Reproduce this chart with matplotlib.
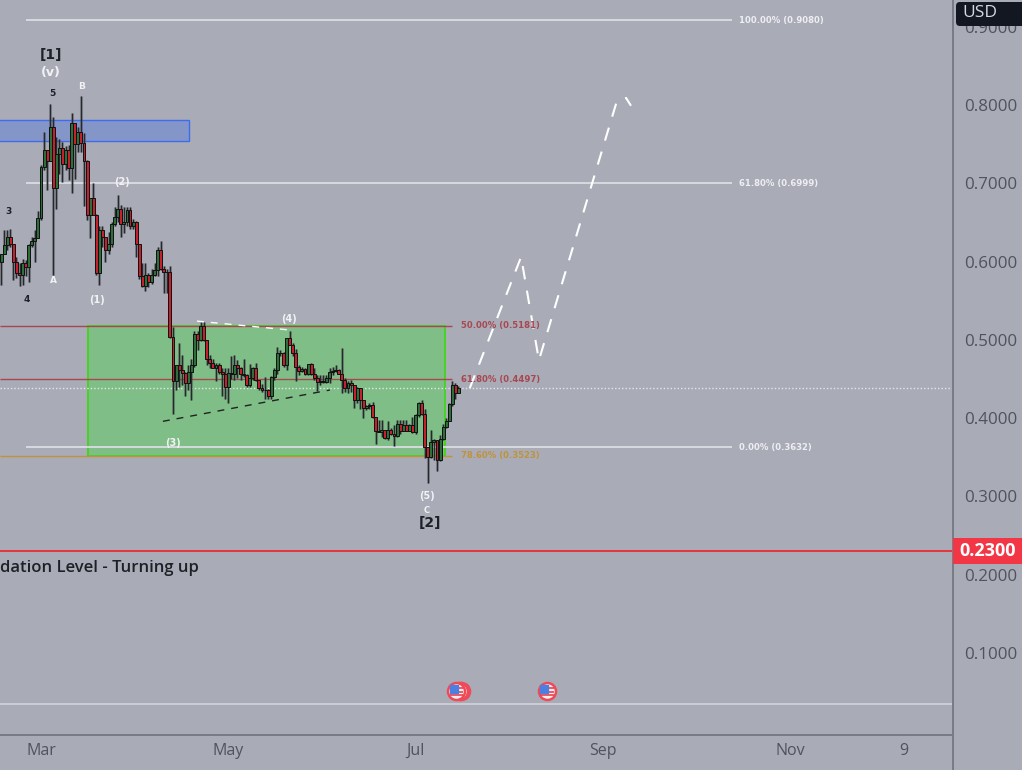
import numpy as np
import matplotlib
matplotlib.use('Agg')
import matplotlib.pyplot as plt
from matplotlib.lines import Line2D
from matplotlib.patches import Rectangle, FancyBboxPatch

# daily candles, day 0 is 1 March
first_day = -13
first_open = 0.599
closes = [0.610, 0.621, 0.631, 0.623, 0.599, 0.586, 0.583, 0.598, 0.593, 0.621,
          0.626, 0.630, 0.656, 0.721, 0.743, 0.729, 0.772, 0.694, 0.737, 0.745,
          0.725, 0.743, 0.719, 0.777, 0.750, 0.765, 0.752, 0.729, 0.660, 0.681,
          0.660, 0.586, 0.640, 0.632, 0.615, 0.623, 0.648, 0.657, 0.667, 0.648,
          0.651, 0.666, 0.645, 0.651, 0.622, 0.581, 0.569, 0.583, 0.574, 0.583,
          0.589, 0.615, 0.591, 0.587, 0.587, 0.504,
          0.447, 0.468, 0.461, 0.458, 0.445, 0.459, 0.468, 0.508, 0.500, 0.518,
          0.500, 0.475, 0.470, 0.464, 0.468, 0.459, 0.457, 0.440, 0.458, 0.456,
          0.468, 0.464, 0.457, 0.455, 0.442, 0.451, 0.464, 0.449, 0.438, 0.436,
          0.436, 0.428, 0.453, 0.461, 0.483, 0.483, 0.468, 0.503, 0.494, 0.483,
          0.466, 0.460, 0.463, 0.456, 0.469, 0.457, 0.451, 0.446, 0.448, 0.446,
          0.451, 0.459, 0.460, 0.462, 0.457, 0.449, 0.438, 0.445,
          0.442, 0.423, 0.438, 0.423, 0.413, 0.415, 0.417, 0.401, 0.384, 0.383,
          0.385, 0.375, 0.385, 0.380, 0.377, 0.392, 0.384, 0.391, 0.384, 0.391,
          0.382, 0.404, 0.419, 0.405, 0.363, 0.350, 0.370, 0.372, 0.346, 0.374,
          0.389, 0.397, 0.418, 0.442, 0.432, 0.438]
highs = [0.610, 0.640, 0.640, 0.642, 0.623, 0.606, 0.598, 0.603, 0.602, 0.623,
         0.632, 0.640, 0.664, 0.723, 0.766, 0.743, 0.801, 0.785, 0.759, 0.757,
         0.753, 0.748, 0.749, 0.790, 0.777, 0.772, 0.811, 0.764, 0.730, 0.681,
         0.700, 0.661, 0.645, 0.645, 0.632, 0.638, 0.650, 0.670, 0.685, 0.672,
         0.670, 0.670, 0.670, 0.655, 0.652, 0.623, 0.598, 0.598, 0.585, 0.591,
         0.598, 0.619, 0.626, 0.594, 0.590, 0.594,
         0.517, 0.468, 0.496, 0.481, 0.459, 0.468, 0.476, 0.511, 0.511, 0.523,
         0.523, 0.500, 0.481, 0.476, 0.471, 0.470, 0.464, 0.464, 0.464, 0.480,
         0.481, 0.474, 0.466, 0.476, 0.456, 0.469, 0.466, 0.470, 0.449, 0.444,
         0.453, 0.437, 0.454, 0.464, 0.491, 0.487, 0.485, 0.503, 0.512, 0.496,
         0.489, 0.468, 0.465, 0.464, 0.469, 0.470, 0.464, 0.455, 0.455, 0.455,
         0.455, 0.464, 0.466, 0.468, 0.463, 0.490, 0.451, 0.447,
         0.449, 0.442, 0.440, 0.438, 0.423, 0.417, 0.420, 0.421, 0.401, 0.398,
         0.398, 0.385, 0.396, 0.387, 0.391, 0.398, 0.398, 0.398, 0.398, 0.393,
         0.402, 0.406, 0.421, 0.423, 0.412, 0.363, 0.385, 0.374, 0.372, 0.379,
         0.392, 0.400, 0.419, 0.447, 0.445, 0.441]
lows = [0.570, 0.610, 0.615, 0.619, 0.577, 0.579, 0.569, 0.570, 0.581, 0.574,
        0.619, 0.600, 0.630, 0.653, 0.717, 0.691, 0.728, 0.583, 0.667, 0.712,
        0.702, 0.717, 0.704, 0.687, 0.706, 0.740, 0.740, 0.671, 0.653, 0.630,
        0.659, 0.583, 0.570, 0.619, 0.600, 0.610, 0.619, 0.645, 0.651, 0.632,
        0.636, 0.645, 0.642, 0.642, 0.606, 0.578, 0.568, 0.562, 0.568, 0.572,
        0.581, 0.581, 0.589, 0.560, 0.560, 0.503,
        0.406, 0.436, 0.440, 0.442, 0.428, 0.436, 0.423, 0.466, 0.487, 0.498,
        0.498, 0.468, 0.464, 0.464, 0.447, 0.457, 0.428, 0.425, 0.419, 0.450,
        0.449, 0.451, 0.449, 0.453, 0.440, 0.440, 0.449, 0.447, 0.436, 0.434,
        0.425, 0.425, 0.425, 0.449, 0.457, 0.479, 0.466, 0.462, 0.494, 0.479,
        0.447, 0.455, 0.459, 0.455, 0.455, 0.455, 0.449, 0.435, 0.442, 0.445,
        0.445, 0.445, 0.455, 0.459, 0.456, 0.432, 0.434, 0.432,
        0.434, 0.413, 0.420, 0.412, 0.400, 0.410, 0.412, 0.400, 0.367, 0.382,
        0.376, 0.374, 0.372, 0.379, 0.364, 0.376, 0.380, 0.384, 0.384, 0.384,
        0.381, 0.380, 0.402, 0.404, 0.349, 0.317, 0.349, 0.346, 0.332, 0.345,
        0.372, 0.388, 0.396, 0.415, 0.425, 0.432]

price_ticks = [0.1, 0.2, 0.3, 0.4, 0.5, 0.6, 0.7, 0.8, 0.9]
month_days = [0, 61, 122, 183, 244, 281]
month_labels = ['Mar', 'May', 'Jul', 'Sep', 'Nov', '9']

white_levels = [0.9080, 0.6999, 0.3632]
white_labels = ['100.00% (0.9080)', '61.80% (0.6999)', '0.00% (0.3632)']
fib_levels = [0.5181, 0.4497, 0.3523]
fib_labels = ['50.00% (0.5181)', '61.80% (0.4497)', '78.60% (0.3523)']
fib_colors = ['#a8474f', '#a8474f', '#c0933a']

# projected path
proj_days = [139.7, 156.4, 162.2, 187.6, 190.6, 192.2]
proj_prices = [0.4386, 0.606, 0.474, 0.805, 0.809, 0.799]
triangle_low_days = [39.7, 94.1]
triangle_low_prices = [0.396, 0.436]
triangle_top_days = [50.8, 81.1]
triangle_top_prices = [0.524, 0.5126]

# wave counts: day, price, label, size
dark_counts = [(3.2, 0.8639, '[1]', 10), (3.7, 0.8153, '5', 6.5), (-10.7, 0.6646, '3', 6.5),
               (-4.6, 0.5522, '4', 6.5), (126.7, 0.2662, '[2]', 10)]
white_counts = [(3.2, 0.8409, '(v)', 9), (13.3, 0.823, 'B', 6.5), (4.2, 0.5765, 'A', 6.5),
                (18.2, 0.551, '(1)', 7), (26.4, 0.7017, '(2)', 7), (43, 0.3683, '(3)', 7),
                (80.8, 0.5267, '(4)', 7), (125.7, 0.3006, '(5)', 7), (125.7, 0.2815, 'C', 6)]

flag_days = [136.9, 136.1, 135.3, 164.8]
flag_price = 0.0516

bg = '#a9abb7'
axis_col = '#787b86'
tick_col = '#50535e'

closes = np.array(closes)
highs = np.array(highs)
lows = np.array(lows)
opens = np.concatenate(([first_open], closes[:-1]))
days = first_day + np.arange(len(closes))

fig = plt.figure(figsize=(10.22, 7.7), dpi=100, facecolor=bg)
ax = fig.add_axes([0, 35 / 770, 953 / 1022, 735 / 770], facecolor=bg)
ax.set_xlim(-13.36, 297.1)
ax.set_ylim(-0.0046, 0.9341)

# zones
ax.add_patch(Rectangle((-14, 0.754), 62.2, 0.0268, facecolor='#8496c8', edgecolor='#3d6cf0', lw=1, zorder=1))
ax.add_patch(Rectangle((15.3, 0.3523), 116.3, 0.1658, facecolor='#7fbf87', edgecolor='#3fd61a', lw=1.3, zorder=1))

# levels
ax.hlines(white_levels, -4.9, 225, color='#dcdde2', lw=1.3, zorder=2)
ax.hlines(fib_levels, -13.36, 133.9, color=fib_colors, lw=1, zorder=2)
ax.axhline(0.4385, color='#e4e5ea', lw=1, ls=(0, (1, 1.5)), zorder=2)
ax.axhline(0.23, color='#e8333c', lw=1.4, zorder=2)
ax.axhline(0.035, color='#d5d6dd', lw=1.1, zorder=2)

# candles, the wide grey line is the soft shadow round the wicks
up = closes >= opens
body_col = np.where(up, '#2c6f3a', '#c4202e')
ax.vlines(days, lows, highs, color='#55585c', lw=2.2, alpha=0.35, zorder=3)
ax.vlines(days, lows, highs, color='#26292c', lw=1, zorder=3)
ax.bar(days, np.abs(closes - opens), bottom=np.minimum(opens, closes), width=0.95,
       color=body_col, edgecolor='#111111', lw=0.7, zorder=4)

# drawn lines
ax.plot(proj_days, proj_prices, color='white', lw=1.5, ls=(0, (6.5, 5.5)), zorder=5)
ax.plot(triangle_low_days, triangle_low_prices, color='#222222', lw=1, ls=(0, (5, 5)), zorder=5)
ax.plot(triangle_top_days, triangle_top_prices, color='white', lw=1, ls=(0, (5, 5)), zorder=5)

# fib labels
for level, label in zip(white_levels, white_labels):
    ax.text(227.4, level, label, color='#eeeef2', fontsize=6.1, fontweight='bold', va='center', zorder=6)
for level, label, col in zip(fib_levels, fib_labels, fib_colors):
    ax.text(136.8, level, label, color=col, fontsize=6.1, fontweight='bold', va='center', zorder=6)

for d, p, label, size in dark_counts:
    ax.text(d, p, label, color='#1e2026', fontsize=size, fontweight='bold', ha='center', va='center', zorder=6)
for d, p, label, size in white_counts:
    ax.text(d, p, label, color='#f2f2f5', fontsize=size, fontweight='bold', ha='center', va='center', zorder=6)

ax.text(-13.2, 0.2085, 'dation Level - Turning up', color='#1e2026', fontsize=12, family='Open Sans',
        fontweight='semibold', va='center', zorder=6)

# event flags
for d in flag_days:
    ax.scatter(d, flag_price, s=150, c='#fbeef0', edgecolors='#f04a58', lw=1.8, zorder=7)
for d in [135.3, 164.8]:
    ax.hlines([flag_price + 0.0037, flag_price - 0.0013], d + 0.4, d + 2.3, color='#e8404c', lw=1.2, zorder=8)
    ax.hlines(flag_price - 0.0055, d - 2.2, d + 2.3, color='#e8404c', lw=1.2, zorder=8)
    ax.scatter(d - 0.9, flag_price + 0.0028, s=30, marker='s', c='#4d7fe0', zorder=8)

ax.set_xticks(month_days, month_labels, fontsize=11.5, color=tick_col, family='Open Sans')
ax.set_yticks(price_ticks, ['%.4f' % p for p in price_ticks], fontsize=12.2, color=tick_col, family='Open Sans')
ax.yaxis.tick_right()
ax.tick_params(axis='both', length=0)
ax.tick_params(axis='x', pad=6)
ax.tick_params(axis='y', pad=8)
for spine in ax.spines.values():
    spine.set_visible(False)

# panel borders
fig.add_artist(Line2D([953 / 1022, 953 / 1022], [0, 1], color=axis_col, lw=1.4, zorder=3))
fig.add_artist(Line2D([0, 953 / 1022], [35 / 770, 35 / 770], color=axis_col, lw=1.4, zorder=3))

# price tags
fig.add_artist(Rectangle((953 / 1022, 206 / 770), 69 / 1022, 26 / 770, facecolor='#f23645', edgecolor='none', zorder=5))
fig.text(988 / 1022, 219 / 770, '0.2300', color='white', fontsize=13, fontweight='bold', family='Open Sans',
         ha='center', va='center', zorder=6)
fig.add_artist(FancyBboxPatch((956, 744), 76, 24, boxstyle='round,pad=0,rounding_size=4', facecolor='#131722',
                              edgecolor='none', transform=None, zorder=5))
fig.text(980 / 1022, 757 / 770, 'USD', color='#d8d9df', fontsize=12.5, family='Open Sans', ha='center', va='center', zorder=6)

plt.savefig('out.png', dpi=100, facecolor=bg)
